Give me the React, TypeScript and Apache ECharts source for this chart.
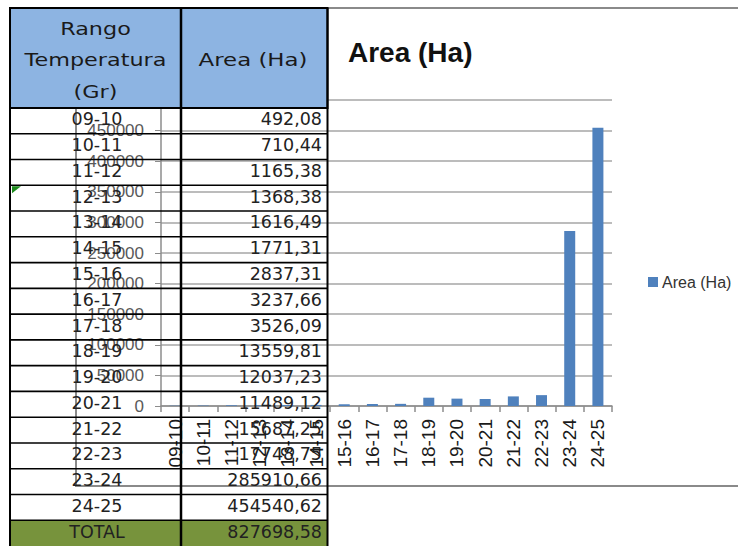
import React, { useEffect, useRef } from "react";
import * as echarts from "echarts";

const categories = ["09-10", "10-11", "11-12", "12-13", "13-14", "14-15", "15-16", "16-17", "17-18", "18-19", "19-20", "20-21", "21-22", "22-23", "23-24", "24-25"];
const areaValues = [492.08, 710.44, 1165.38, 1368.38, 1616.49, 1771.31, 2837.31, 3237.66, 3526.09, 13559.81, 12037.23, 11489.12, 15687.25, 17748.75, 285910.66, 454540.62];
const seriesName = "Area (Ha)";
const headerCol1 = ["Rango", "Temperatura", "(Gr)"];
const headerCol2 = "Area (Ha)";
const totalLabel = "TOTAL";

const fmt = (v: number) => v.toFixed(2).replace(".", ",");

export default function App() {
  const ref = useRef<HTMLDivElement>(null);
  useEffect(() => {
    if (!ref.current) return;
    const chart = echarts.init(ref.current, undefined, { renderer: "svg" });
    const total = areaValues.reduce((a, b) => a + b, 0);

    // table geometry
    const tL = 10, tM = 181, tR = 327.5, hTop = 8, hBot = 108, tBot = 546;
    const nRows = categories.length + 1;
    const rowH = (tBot - hBot) / nRows;
    const cellFont = "DejaVu Sans";
    const cellSize = 17.5;
    const g: any[] = [];
    const Z = 100;
    // chart area frame
    g.push({ type: "rect", z: 1, shape: { x: 76, y: 8, width: 720, height: 478 }, style: { fill: "none", stroke: "#8a8a8a", lineWidth: 2 } });
    // header
    g.push({ type: "rect", z: Z, shape: { x: tL, y: hTop, width: tR - tL, height: hBot - hTop }, style: { fill: "#8DB4E2", stroke: "#000", lineWidth: 2 } });
    // total row
    g.push({ type: "rect", z: Z, shape: { x: tL, y: hBot + rowH * (nRows - 1), width: tR - tL, height: rowH + 2 }, style: { fill: "#77933C" } });
    // row lines
    for (let i = 1; i < nRows; i++) {
      const y = hBot + rowH * i;
      g.push({ type: "line", z: Z + 1, shape: { x1: tL, y1: y, x2: tR, y2: y }, style: { stroke: "#000", lineWidth: 1.6 } });
    }
    // vertical lines
    [[tL, 2], [tM, 2.5], [tR, 2]].forEach(([x, w]) => {
      g.push({ type: "line", z: Z + 1, shape: { x1: x, y1: hTop, x2: x, y2: tBot }, style: { stroke: "#000", lineWidth: w } });
    });
    // header texts
    const hy = [29, 60, 92];
    headerCol1.forEach((t, i) => {
      g.push({ type: "text", z: Z + 2, x: 95.5, y: hy[i], scaleX: 1.24, style: { text: t, fontFamily: cellFont, fontSize: 18, fill: "#1a1a1a", textAlign: "center", textVerticalAlign: "middle", verticalAlign: "middle" } });
    });
    g.push({ type: "text", z: Z + 2, x: 253, y: 60, scaleX: 1.27, style: { text: headerCol2, fontFamily: cellFont, fontSize: 18, fill: "#1a1a1a", textAlign: "center", textVerticalAlign: "middle", verticalAlign: "middle" } });
    // body texts
    const rows: [string, string][] = categories.map((c, i) => [c, fmt(areaValues[i])]);
    rows.push([totalLabel, fmt(total)]);
    rows.forEach(([c, v], i) => {
      const cy = hBot + rowH * i + rowH / 2 - 1.5;
      g.push({ type: "text", z: Z + 2, x: 97, y: cy, style: { text: c, fontFamily: cellFont, fontSize: cellSize, fill: "#222", textAlign: "center", textVerticalAlign: "middle", verticalAlign: "middle" } });
      g.push({ type: "text", z: Z + 2, x: 322, y: cy, style: { text: v, fontFamily: cellFont, fontSize: cellSize, fill: "#222", textAlign: "right", textVerticalAlign: "middle", verticalAlign: "middle" } });
    });
    // excel error indicator
    g.push({ type: "polygon", z: Z + 3, shape: { points: [[12, hBot + rowH * 3 + 1], [21, hBot + rowH * 3 + 1], [12, hBot + rowH * 3 + 8]] }, style: { fill: "#1E8C1E" } });

    chart.setOption({
      animation: false,
      backgroundColor: "#ffffff",
      title: {
        text: seriesName,
        left: 343,
        top: 33,
        textStyle: { fontFamily: "Liberation Sans", fontWeight: "bold", fontSize: 28, color: "#111" },
      },
      legend: {
        left: 643,
        top: 269,
        orient: "vertical",
        itemWidth: 10,
        itemHeight: 10,
        icon: "rect",
        itemGap: 5,
        textStyle: { fontFamily: "Liberation Sans", fontSize: 16, color: "#333", padding: [0, 0, 0, -1] },
        data: [seriesName],
      },
      grid: { left: 161, right: 126, top: 100, bottom: 140, containLabel: false },
      xAxis: {
        type: "category",
        data: categories,
        boundaryGap: true,
        axisLine: { lineStyle: { color: "#8c8c8c", width: 1.5 } },
        axisTick: { show: true, length: 6, lineStyle: { color: "#8c8c8c", width: 1.5 } },
        axisLabel: { rotate: 90, interval: 0, margin: 13, fontFamily: "Liberation Sans", fontSize: 19, color: "#1a1a1a" },
      },
      yAxis: {
        type: "value",
        min: 0,
        max: 500000,
        interval: 50000,
        axisLine: { show: true, lineStyle: { color: "#8c8c8c", width: 1.5 } },
        axisTick: { show: true, length: 6, lineStyle: { color: "#8c8c8c" } },
        axisLabel: { margin: 17, fontFamily: "Liberation Sans", fontSize: 17, color: "#595959", formatter: (v: number) => String(v) },
        splitLine: { lineStyle: { color: "#a6a6a6", width: 1.5 } },
      },
      series: [
        {
          name: seriesName,
          type: "bar",
          data: areaValues,
          barWidth: 11,
          itemStyle: { color: "#4F81BD" },
        },
      ],
      graphic: { elements: g },
    });
    return () => chart.dispose();
  }, []);
  return <div ref={ref} style={{ position: "fixed", left: 0, top: 0, width: 738, height: 546 }} />;
}
